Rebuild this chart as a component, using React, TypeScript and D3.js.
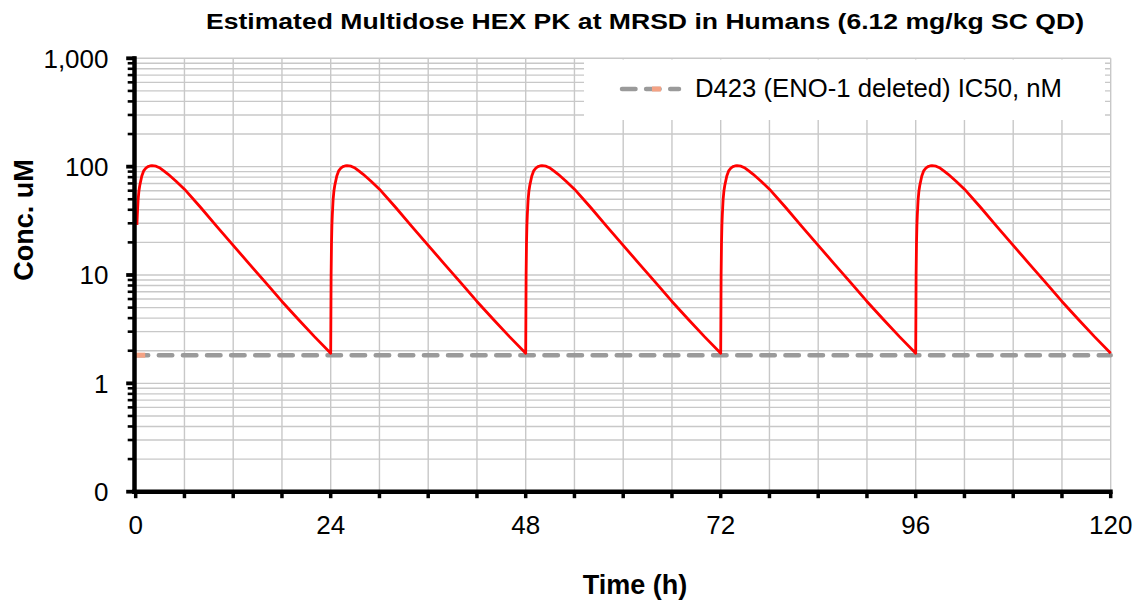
import React from "react";
import * as d3 from "d3";

// ---- data ----
const title = "Estimated Multidose HEX PK at MRSD in Humans (6.12 mg/kg SC QD)";
const xTitle = "Time (h)";
const yTitle = "Conc. uM";
const doseTimes = [0, 24, 48, 72, 96];
const hoursSinceDose = [0, 0.05, 0.1, 0.15, 0.2, 0.3, 0.4, 0.5, 0.75, 1, 1.25, 1.5, 1.75, 2, 2.5, 3, 3.5, 4, 5, 6, 8, 10, 12, 14, 16, 18, 20, 22, 24];
const concUM = [1.9, 10, 20, 29, 36, 50, 60, 67, 82, 92, 97, 100, 101.5, 102, 101, 97, 91, 85, 73, 62, 42, 28, 18.8, 12.6, 8.5, 5.7, 3.9, 2.7, 1.9];
const ic50Label = "D423 (ENO-1 deleted) IC50, nM";
const ic50Value = 1.82;
const xTickValues = [0, 24, 48, 72, 96, 120];
const yTickValues = [0.1, 1, 10, 100, 1000];
const yTickLabels = ["0", "1", "10", "100", "1,000"];

const W = 1135;
const H = 605;
const FONT = "'Liberation Sans', Arial, sans-serif";

export default function App() {
  const x = d3.scaleLinear().domain([0, 120]).range([135.7, 1110.7]);
  const y = d3.scaleLog().domain([0.1, 1000]).range([491.7, 58.3]);

  const pts: { t: number; c: number }[] = [];
  doseTimes.forEach((d, i) => {
    hoursSinceDose.forEach((tau, j) => {
      if (i === 0 && tau < 0.15) return;
      if (i < doseTimes.length - 1 && tau === 24) return;
      pts.push({ t: d + tau, c: concUM[j] });
    });
  });
  const line = d3
    .line<{ t: number; c: number }>()
    .x((p) => x(p.t))
    .y((p) => y(p.c))
    .curve(d3.curveLinear);

  const minorVals: number[] = [];
  for (let e = -1; e < 3; e++) {
    for (let m = 2; m <= 9; m++) minorVals.push(m * Math.pow(10, e));
  }
  const majorVals = yTickValues;
  const xGrid = d3.range(6, 121, 6);
  const xTicks = d3.range(0, 121, 6);

  const [x0, x1] = x.range();
  const yBot = y(0.1);
  const yTop = y(1000);

  return (
    <svg width={W} height={H} style={{ position: "absolute", left: 0, top: 0, background: "#fff" }}>
      <rect x={0} y={0} width={W} height={H} fill="#fff" />
      {/* gridlines */}
      {[...minorVals, ...majorVals].map((v, i) => (
        <line key={"hg" + i} x1={x0} x2={x1} y1={y(v)} y2={y(v)} stroke="#c8c8c8" strokeWidth={1.4} />
      ))}
      {xGrid.map((v) => (
        <line key={"vg" + v} x1={x(v)} x2={x(v)} y1={yTop} y2={yBot} stroke="#c8c8c8" strokeWidth={1.4} />
      ))}
      {/* legend box background */}
      <rect x={584} y={59.5} width={521} height={60.5} fill="#fff" />
      {/* IC50 dashed line */}
      <line
        x1={x(0)}
        x2={x(120)}
        y1={y(ic50Value)}
        y2={y(ic50Value)}
        stroke="#9a9a9a"
        strokeWidth={4.5}
        strokeDasharray="13.5 10.6"
        strokeDashoffset={1}
        strokeLinecap="round"
      />
      <rect x={x(0) - 0.5} y={y(ic50Value) - 2.5} width={10} height={5} fill="#f4a284" />
      {/* PK curve */}
      <path d={line(pts) || ""} fill="none" stroke="#ff0000" strokeWidth={2.8} strokeLinejoin="round" />
      {/* axes */}
      <line x1={x0 - 1.2} x2={x0 - 1.2} y1={yTop - 2} y2={yBot + 2} stroke="#000" strokeWidth={4.5} />
      <line x1={x0 - 3.5} x2={x1 + 2} y1={yBot} y2={yBot} stroke="#000" strokeWidth={4.5} />
      {minorVals.map((v, i) => (
        <line key={"ymt" + i} x1={x0 - 8} x2={x0} y1={y(v)} y2={y(v)} stroke="#000" strokeWidth={2.6} />
      ))}
      {majorVals.map((v, i) => (
        <line key={"yMt" + i} x1={x0 - 9.5} x2={x0} y1={y(v)} y2={y(v)} stroke="#000" strokeWidth={3.8} />
      ))}
      {xTicks.map((v) => (
        <line key={"xt" + v} x1={x(v)} x2={x(v)} y1={yBot} y2={yBot + 6.5} stroke="#000" strokeWidth={3.5} />
      ))}
      {/* tick labels */}
      {yTickValues.map((v, i) => (
        <text key={"yl" + i} x={108.5} y={y(v) + 9.3} textAnchor="end" fontFamily={FONT} fontSize={26} fill="#000">
          {yTickLabels[i]}
        </text>
      ))}
      {xTickValues.map((v) => (
        <text key={"xl" + v} x={x(v)} y={534.3} textAnchor="middle" fontFamily={FONT} fontSize={26} fill="#000">
          {String(v)}
        </text>
      ))}
      {/* titles */}
      <text
        x={645}
        y={29}
        textAnchor="middle"
        fontFamily={FONT}
        fontSize={22}
        fontWeight="bold"
        fill="#000"
        textLength={878}
        lengthAdjust="spacingAndGlyphs"
      >
        {title}
      </text>
      <text x={635} y={594} textAnchor="middle" fontFamily={FONT} fontSize={27} fontWeight="bold" fill="#000">
        {xTitle}
      </text>
      <text
        transform={`translate(33.3,220) rotate(-90)`}
        textAnchor="middle"
        fontFamily={FONT}
        fontSize={27}
        fontWeight="bold"
        fill="#000"
      >
        {yTitle}
      </text>
      {/* legend */}
      <line x1={620} x2={679} y1={89} y2={89} stroke="#9a9a9a" strokeWidth={4.5} strokeDasharray="13.5 10.6" strokeLinecap="round" strokeDashoffset={-2} />
      <rect x={652} y={86.5} width={9} height={5} fill="#f4a284" />
      <text x={695} y={96.7} fontFamily={FONT} fontSize={25.7} fill="#000">
        {ic50Label}
      </text>
    </svg>
  );
}
